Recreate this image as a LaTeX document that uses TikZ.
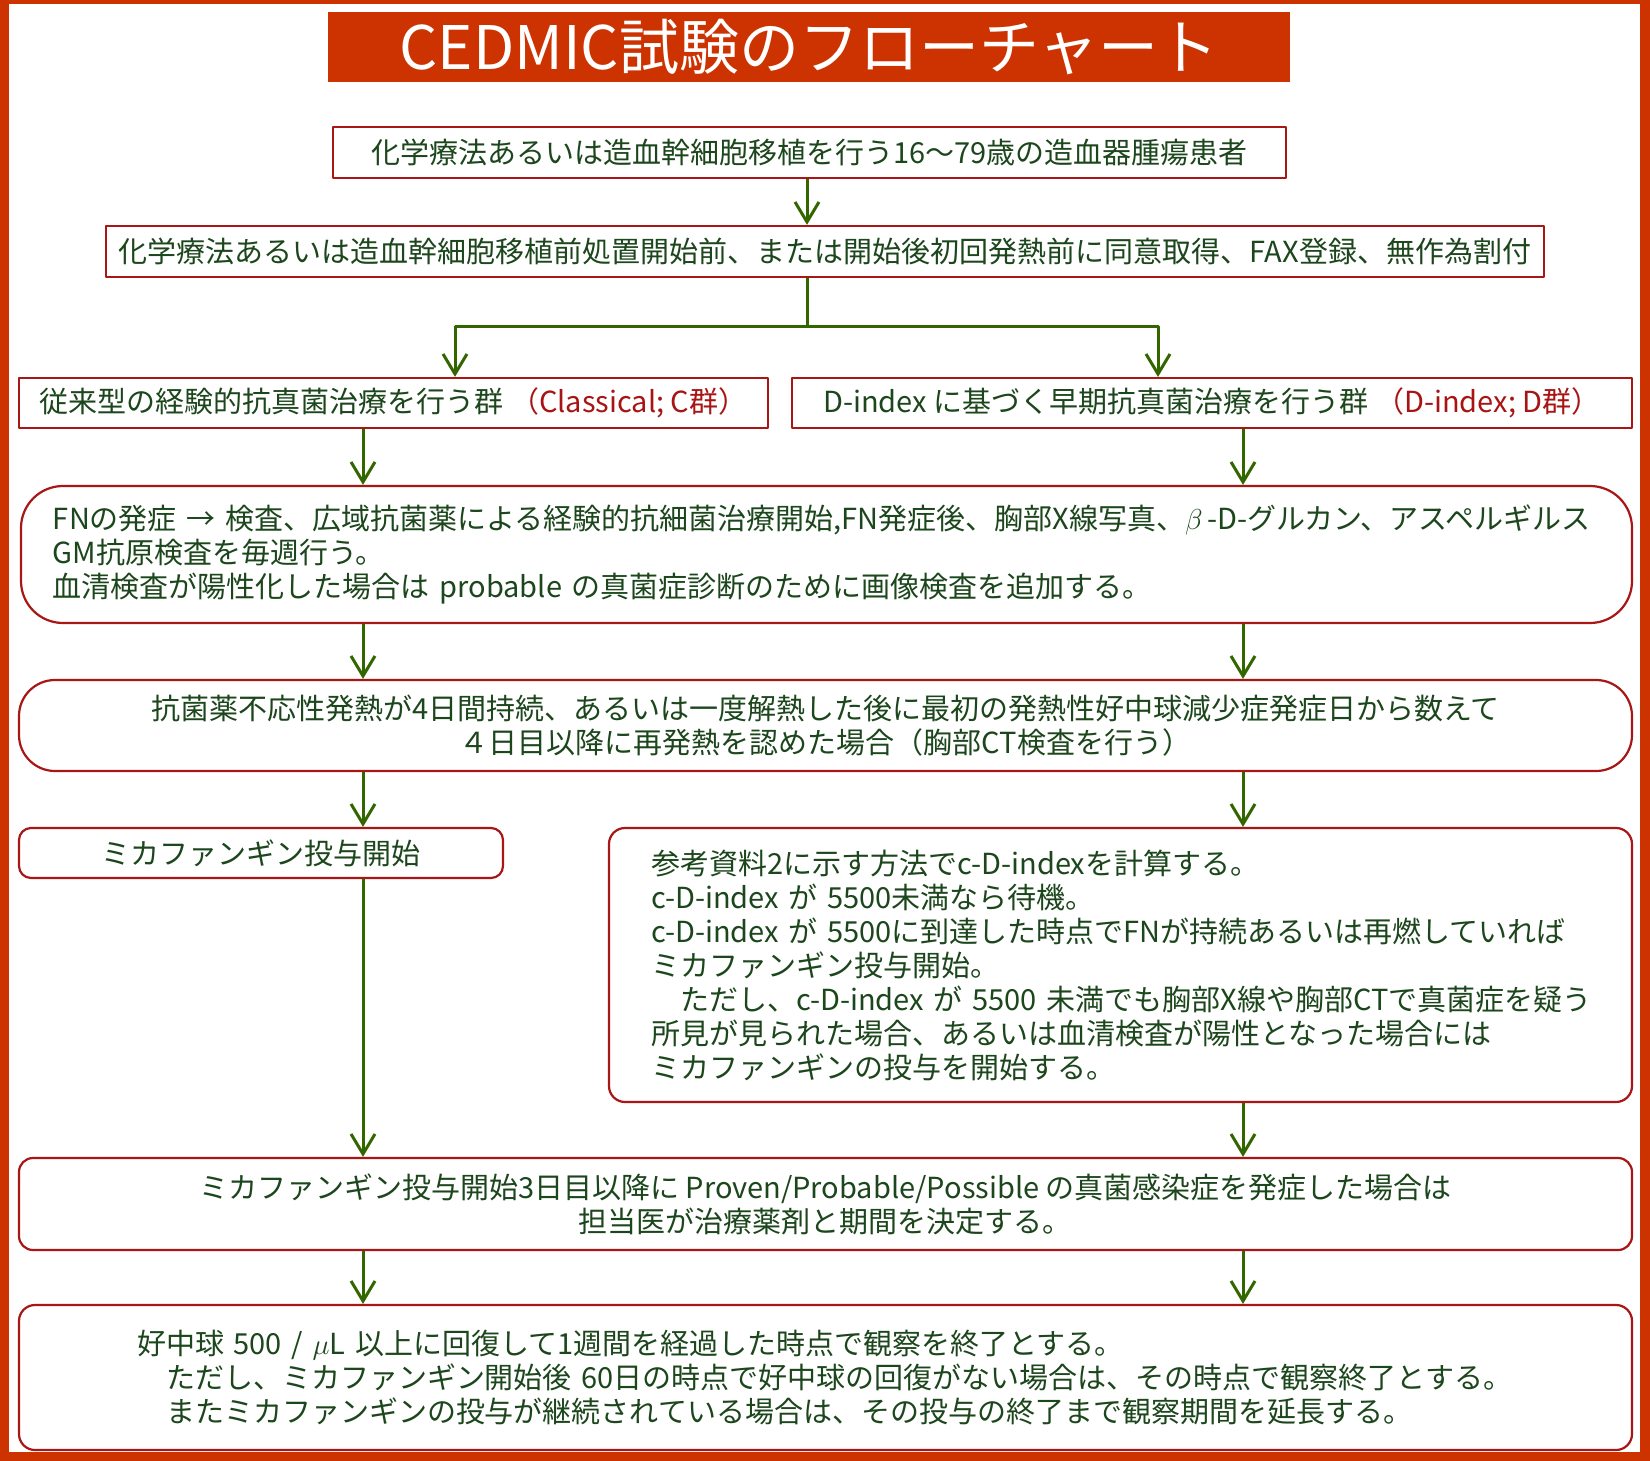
\documentclass[tikz,border=0pt]{standalone}
\usepackage{fontspec}
\setmainfont{Noto Sans CJK JP}
\usetikzlibrary{arrows.meta}
\definecolor{frame}{RGB}{204,51,0}
\definecolor{boxred}{RGB}{168,22,22}
\definecolor{txtgreen}{RGB}{28,70,28}
\definecolor{arrgreen}{RGB}{52,102,0}
\definecolor{grpred}{RGB}{168,20,20}
\begin{document}
\begin{tikzpicture}[x=0.5pt, y=-0.5pt, line join=round, font=\fontsize{14.5}{17}\selectfont, >={Straight Barb[length=10pt,width=12pt]},
  box/.style={draw=boxred, line width=1.1pt, fill=white, text=txtgreen, inner sep=0pt},
  rbox/.style={box, rounded corners=#1},
  arr/.style={->, draw=arrgreen, line width=1.5pt}]
  \useasboundingbox (0,0) rectangle (1650,1461);
  \fill[frame] (0,0) rectangle (1650,1461);
  \fill[white] (9,4) rectangle (1640,1452);
  \node[fill=frame, text=white, inner sep=0pt, font=\fontsize{30}{36}\selectfont, minimum width=481pt, minimum height=35pt] (title) at (809,47) {CEDMIC試験のフローチャート};
  % boxes, top to bottom
  \node[box, minimum width=476.5pt, minimum height=25.5pt] (pat) at (809.5,152.5) {化学療法あるいは造血幹細胞移植を行う16〜79歳の造血器腫瘍患者};
  \node[box, minimum width=719pt, minimum height=25.5pt] (cons) at (825,251.5) {化学療法あるいは造血幹細胞移植前処置開始前、または開始後初回発熱前に同意取得、FAX登録、無作為割付};
  \node[box, minimum width=374.5pt, minimum height=25pt] (grpc) at (393.5,403) {従来型の経験的抗真菌治療を行う群 {\color{grpred}（Classical; C群）}};
  \node[box, minimum width=420pt, minimum height=25pt] (grpd) at (1212,403) {D-index に基づく早期抗真菌治療を行う群 {\color{grpred}（D-index; D群）}};
  \node[rbox=21pt, minimum width=805.5pt, minimum height=68.5pt, text width=773.5pt, align=left] (fn) at (826.5,554.5)
    {\mbox{FNの発症 → 検査、広域抗菌薬による経験的抗細菌治療開始,FN発症後、胸部X線写真、$\beta$\,-D-グルカン、アスペルギルス}\\
     \mbox{GM抗原検査を毎週行う。}\\
     \mbox{血清検査が陽性化した場合は probable の真菌症診断のために画像検査を追加する。}};
  \node[rbox=18pt, minimum width=806.5pt, minimum height=45.5pt, align=center] (fev) at (825.5,725.5)
    {抗菌薬不応性発熱が4日間持続、あるいは一度解熱した後に最初の発熱性好中球減少症発症日から数えて\\
     ４日目以降に再発熱を認めた場合（胸部CT検査を行う）};
  \node[rbox=6pt, minimum width=242pt, minimum height=25pt] (mica) at (261,853) {ミカファンギン投与開始};
  \node[rbox=8pt, minimum width=511.5pt, minimum height=137pt, text width=469.5pt, align=left] (cdi) at (1120.5,965)
    {\mbox{参考資料2に示す方法でc-D-indexを計算する。}\\
     \mbox{c-D-index が 5500未満なら待機。}\\
     \mbox{c-D-index が 5500に到達した時点でFNが持続あるいは再燃していれば}\\
     \mbox{ミカファンギン投与開始。}\\
     \mbox{　ただし、c-D-index が 5500 未満でも胸部X線や胸部CTで真菌症を疑う}\\
     \mbox{所見が見られた場合、あるいは血清検査が陽性となった場合には}\\
     \mbox{ミカファンギンの投与を開始する。}};
  \node[rbox=7pt, minimum width=806.5pt, minimum height=46pt, align=center] (prov) at (825.5,1204)
    {ミカファンギン投与開始3日目以降に Proven/Probable/Possible の真菌感染症を発症した場合は\\
     担当医が治療薬剤と期間を決定する。};
  \node[rbox=8pt, minimum width=806.5pt, minimum height=72.5pt, text width=688.5pt, align=left] (obs) at (825.5,1377.5)
    {\mbox{好中球 500 / $\mu$L 以上に回復して1週間を経過した時点で観察を終了とする。}\\
     \mbox{　ただし、ミカファンギン開始後 60日の時点で好中球の回復がない場合は、その時点で観察終了とする。}\\
     \mbox{　またミカファンギンの投与が継続されている場合は、その投与の終了まで観察期間を延長する。}};
  % connectors
  \coordinate (jn) at (807,326);
  \coordinate (brc) at (455,0);
  \coordinate (brd) at (1158,0);
  \coordinate (colc) at (363,0);
  \coordinate (cold) at (1243,0);
  \draw[arr] (pat.south -| jn) -- (cons.north -| jn);
  \draw[arr] (cons.south -| jn) -- (jn) -| (grpc.north -| brc);
  \draw[arr] (jn) -| (grpd.north -| brd);
  \foreach \c/\a/\b in {colc/grpc/fn, cold/grpd/fn, colc/fn/fev, cold/fn/fev, colc/fev/mica, cold/fev/cdi, colc/mica/prov, cold/cdi/prov, colc/prov/obs, cold/prov/obs}
    \draw[arr] (\a.south -| \c) -- (\b.north -| \c);
\end{tikzpicture}
\end{document}
